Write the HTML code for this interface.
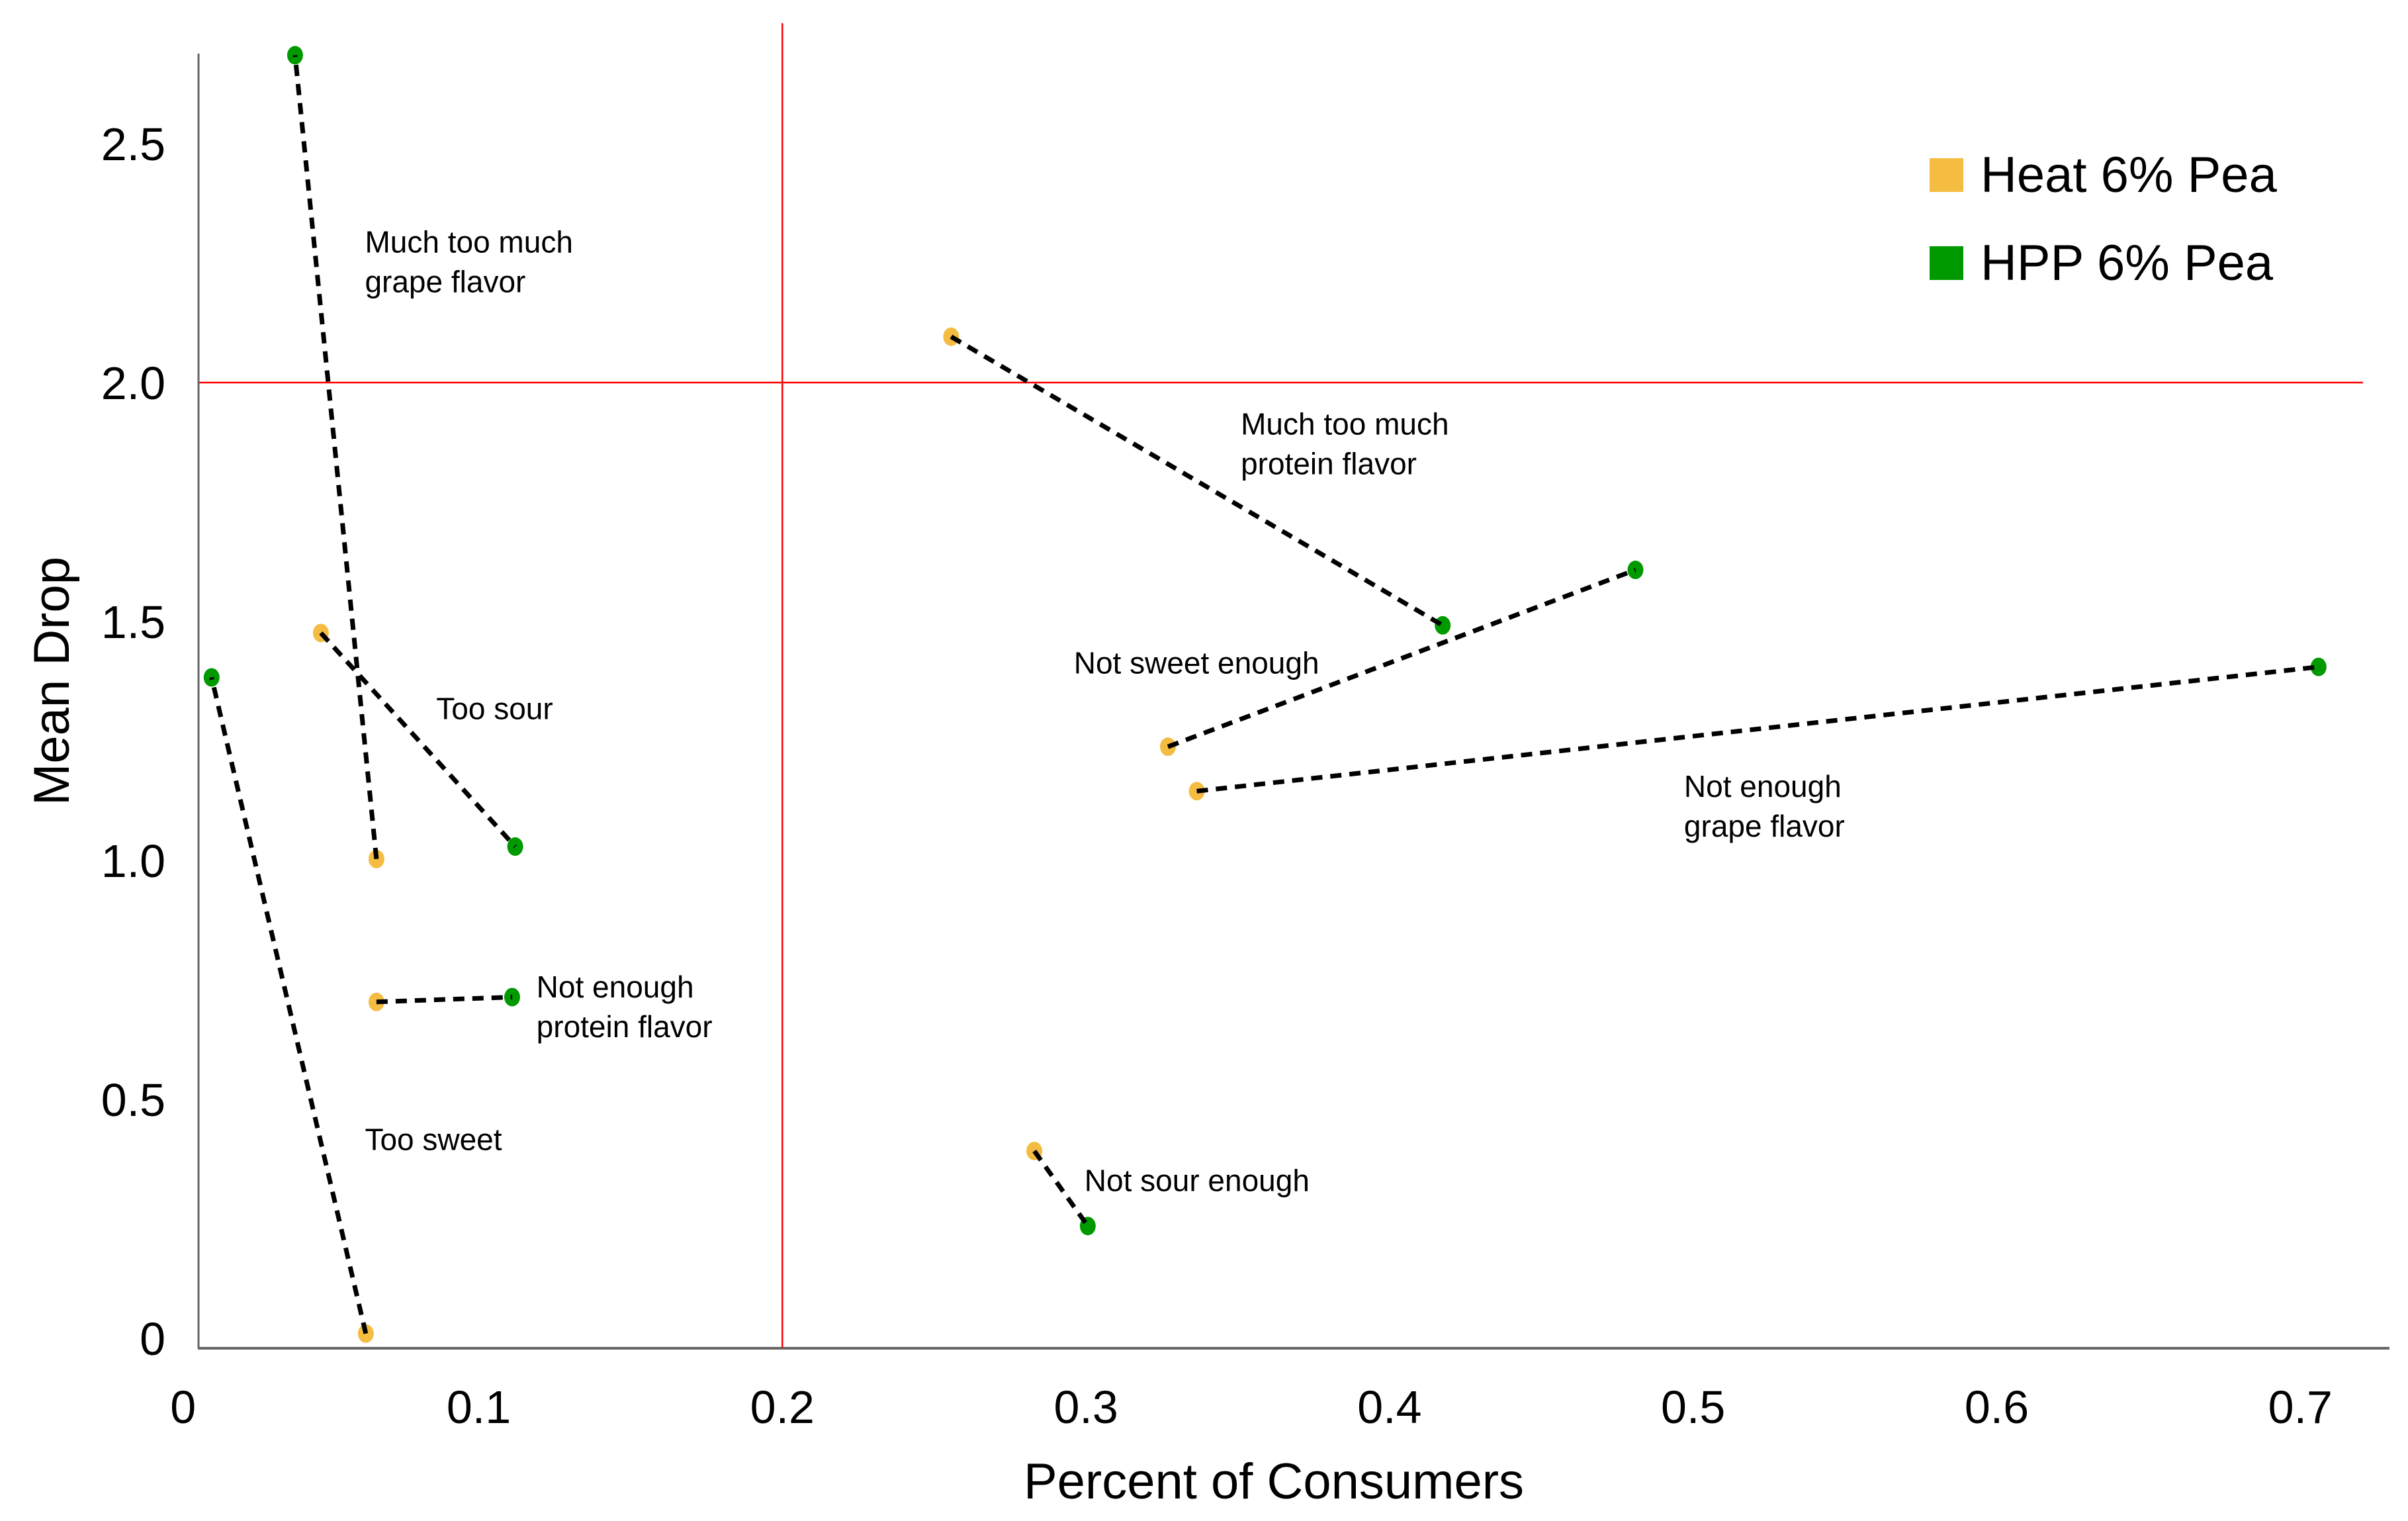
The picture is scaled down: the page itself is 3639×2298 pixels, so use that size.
<!DOCTYPE html>
<html><head><meta charset="utf-8"><style>
html,body{margin:0;padding:0;background:#fff;}
svg{display:block;font-family:"Liberation Sans",sans-serif;}
</style></head><body>
<svg id="chart" width="3639" height="2298" viewBox="0 0 3639 2298" xmlns="http://www.w3.org/2000/svg">
<g id="axes"></g>
<g id="marks"></g>
<g id="labels"></g>
<g>
<rect x="2916" y="239" width="51" height="51" fill="#F4BD42"/>
<text x="2993" y="290" font-size="76" fill="#000">Heat 6% Pea</text>
<rect x="2916" y="372" width="51" height="51" fill="#009A00"/>
<text x="2993" y="423" font-size="76" fill="#000">HPP 6% Pea</text>
</g>
</svg>
<script>
const categories = ["Much too much grape flavor","Too sour","Too sweet","Not enough protein flavor","Much too much protein flavor","Not sweet enough","Not enough grape flavor","Not sour enough"];
const heatX = [0.0663,0.048,0.0628,0.0663,0.2556,0.327,0.3365,0.283];
const heatY = [1.003,1.476,0.01,0.704,2.096,1.238,1.145,0.392];
const hppX = [0.0395,0.112,0.012,0.111,0.4175,0.481,0.706,0.3006];
const hppY = [2.685,1.029,1.383,0.714,1.492,1.608,1.405,0.235];
const xTicks = [0,0.1,0.2,0.3,0.4,0.5,0.6,0.7];
const xTickLabels = ["0","0.1","0.2","0.3","0.4","0.5","0.6","0.7"];
const yTicks = [0,0.5,1.0,1.5,2.0,2.5];
const yTickLabels = ["0","0.5","1.0","1.5","2.0","2.5"];
const refX = 0.2, refY = 2.0;
const labelLines = [["Much too much","grape flavor"],["Too sour"],["Too sweet"],["Not enough","protein flavor"],["Much too much","protein flavor"],["Not sweet enough"],["Not enough","grape flavor"],["Not sour enough"]];
const labelX = [0.0625,0.086,0.0625,0.119,0.351,0.296,0.497,0.2995];
const labelY = [2.272,1.296,0.394,0.713,1.891,1.391,1.133,0.308];

const NS="http://www.w3.org/2000/svg";
function X(v){return 264.7+v*4588;}
function Y(v){return 2022-v*722;}
function mk(tag,attrs,parent){const e=document.createElementNS(NS,tag);for(const k in attrs)e.setAttribute(k,attrs[k]);parent.appendChild(e);return e;}
const axes=document.getElementById('axes'),marks=document.getElementById('marks'),labels=document.getElementById('labels');

let e;
e=mk('line',{x1:300,y1:81,x2:300,y2:2037,stroke:'#666','stroke-width':3},axes);


e=mk('line',{x1:299,y1:2037,x2:3611,y2:2037,stroke:'#666','stroke-width':4},axes);


e=mk('line',{x1:X(refX),y1:35,x2:X(refX),y2:2036,stroke:'#f00','stroke-width':2.5},axes);


e=mk('line',{x1:301,y1:Y(refY),x2:3571,y2:Y(refY),stroke:'#f00','stroke-width':2.5},axes);



xTicks.forEach((t,i)=>{
  const tx=mk('text',{x:X(t)+(t===0?12:0),y:2150,'font-size':70,'text-anchor':'middle',fill:'#000'},axes);
  tx.textContent=xTickLabels[i];
  
  
});
yTicks.forEach((t,i)=>{
  const tx=mk('text',{x:250,y:Y(t)+25,'font-size':70,'text-anchor':'end',fill:'#000'},axes);
  tx.textContent=yTickLabels[i];
  
  
});
e=mk('text',{x:1925,y:2264,'font-size':76,'text-anchor':'middle',fill:'#000'},axes);
e.textContent='Percent of Consumers';


e=mk('text',{x:0,y:0,'font-size':76,'text-anchor':'middle',fill:'#000',transform:'translate(104,1029) rotate(-90)'},axes);
e.textContent='Mean Drop';



categories.forEach((c,i)=>{
  const a=mk('ellipse',{cx:X(heatX[i]),cy:Y(heatY[i]),rx:12,ry:14,fill:'#F4BD42'},marks);
  
  
  const b=mk('ellipse',{cx:X(hppX[i]),cy:Y(hppY[i]),rx:12,ry:14,fill:'#009A00'},marks);
  
  
  const l=mk('line',{x1:X(heatX[i]),y1:Y(heatY[i]),x2:X(hppX[i]),y2:Y(hppY[i]),stroke:'#000','stroke-width':7,'stroke-dasharray':'17 12'},marks);
  
  
  labelLines[i].forEach((s,j)=>{
    const t=mk('text',{x:X(labelX[i]),y:Y(labelY[i])+j*60,'font-size':46,fill:'#000'},labels);
    t.textContent=s;
    
    
  });
});
</script>
</body></html>
